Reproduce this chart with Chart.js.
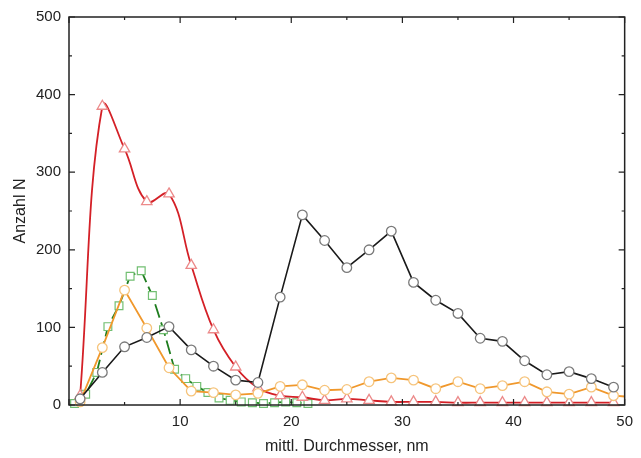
<!DOCTYPE html>
<html lang="de">
<head>
<meta charset="UTF-8">
<title>Anzahl N</title>
<script src="https://cdn.jsdelivr.net/npm/chart.js"></script>
<style>
  body { margin: 0; background: #fff; }
</style>
</head>
<body>
<canvas id="grafico" width="641" height="458"></canvas>
<script>
// Werte
const xUngerade = [1, 3, 5, 7, 9, 11, 13, 15, 17, 19, 21, 23, 25, 27, 29, 31, 33, 35, 37, 39, 41, 43, 45, 47, 49];
const schwarz = [8, 42, 75, 87, 101, 71, 50, 32, 29, 139, 245, 212, 177, 200, 224, 158, 135, 118, 86, 82, 57, 39, 43, 34, 23];
const xOrange = [1, 3, 5, 7, 9, 11, 13, 15, 17, 19, 21, 23, 25, 27, 29, 31, 33, 35, 37, 39, 41, 43, 45, 47, 49, 51];
const orange = [4, 74, 148, 99, 48, 18, 16, 13, 15, 24, 26, 19, 20, 30, 35, 32, 21, 30, 21, 25, 30, 17, 14, 23, 12, 10];
const rot = [12, 385, 330, 262, 272, 180, 97, 49, 22, 12, 10, 6, 8, 6, 4, 4, 4, 3, 3, 3, 3, 3, 3, 3, 3];
const xGruen = [0.5, 1.5, 2.5, 3.5, 4.5, 5.5, 6.5, 7.5, 8.5, 9.5, 10.5, 11.5, 12.5, 13.5, 14.5, 15.5, 16.5, 17.5, 18.5, 19.5, 20.5, 21.5];
const gruen = [2, 14, 42, 101, 128, 166, 173, 141, 97, 46, 34, 24, 16, 9, 6, 4, 3, 2, 3, 4, 3, 2];

const xTicks = [0, 10, 20, 30, 40, 50];
const yTicks = [0, 100, 200, 300, 400, 500];

function punkte(xs, ys) {
    return ys.map((v, i) => ({ x: xs[i], y: v }));
}

// Rahmen mit nach innen zeigenden Ticks
const rahmen = {
    id: 'rahmen',
    afterDatasetsDraw(chart) {
        const { ctx, chartArea: a, scales: { x, y } } = chart;
        ctx.save();
        ctx.strokeStyle = '#222';
        ctx.lineWidth = 1.5;
        ctx.strokeRect(a.left, a.top, a.right - a.left, a.bottom - a.top);
        ctx.lineWidth = 1.2;
        ctx.beginPath();
        for (let v = 0; v <= 50; v += 5) {
            const px = x.getPixelForValue(v);
            const l = v % 10 === 0 ? 6 : 3;
            ctx.moveTo(px, a.bottom); ctx.lineTo(px, a.bottom - l);
            ctx.moveTo(px, a.top); ctx.lineTo(px, a.top + l);
        }
        for (let v = 0; v <= 500; v += 50) {
            const py = y.getPixelForValue(v);
            const l = v % 100 === 0 ? 6 : 3;
            ctx.moveTo(a.left, py); ctx.lineTo(a.left + l, py);
            ctx.moveTo(a.right, py); ctx.lineTo(a.right - l, py);
        }
        ctx.stroke();
        ctx.restore();
    }
};

const clipBereich = { left: 8, top: 8, right: 0, bottom: 8 };

new Chart(document.getElementById('grafico'), {
    type: 'line',
    data: {
        datasets: [
            {
                label: 'schwarz',
                data: punkte(xUngerade, schwarz),
                borderColor: '#1a1a1a',
                borderWidth: 1.6,
                pointStyle: 'circle',
                pointRadius: 4.8,
                pointBorderColor: '#7a7a7a',
                pointBackgroundColor: '#fff',
                pointBorderWidth: 1.3,
                tension: 0,
                clip: clipBereich,
                order: 1
            },
            {
                label: 'orange',
                data: punkte(xOrange, orange),
                borderColor: '#f0982c',
                borderWidth: 1.8,
                pointStyle: 'circle',
                pointRadius: 4.8,
                pointBorderColor: '#f6c47c',
                pointBackgroundColor: '#fff',
                pointBorderWidth: 1.3,
                tension: 0,
                clip: clipBereich,
                order: 2
            },
            {
                label: 'rot',
                data: punkte(xUngerade, rot),
                borderColor: '#d42027',
                borderWidth: 1.8,
                pointStyle: 'triangle',
                pointRadius: 6,
                pointBorderColor: '#ec8a8a',
                pointBackgroundColor: '#fff',
                pointBorderWidth: 1.3,
                tension: 0.4,
                clip: clipBereich,
                order: 3
            },
            {
                label: 'gruen',
                data: punkte(xGruen, gruen),
                borderColor: '#1e7d1e',
                borderWidth: 1.8,
                borderDash: [14, 5],
                pointStyle: 'rect',
                pointRadius: 5.5,
                pointBorderColor: '#72bf72',
                pointBackgroundColor: '#fff',
                pointBorderWidth: 1.2,
                tension: 0,
                clip: clipBereich,
                order: 4
            }
        ]
    },
    options: {
        responsive: false,
        animation: false,
        layout: { padding: { top: 16, right: 9, left: 0, bottom: 0 } },
        plugins: {
            legend: { display: false },
            tooltip: { enabled: false }
        },
        scales: {
            x: {
                type: 'linear',
                min: 0,
                max: 50,
                grid: { display: false, drawTicks: false },
                border: { display: false },
                afterBuildTicks: (s) => { s.ticks = xTicks.map(v => ({ value: v })); },
                afterFit: (s) => { s.height = 53; },
                ticks: {
                    padding: 8,
                    maxRotation: 0,
                    color: '#222',
                    font: { family: 'Liberation Sans', size: 15 },
                    callback: (v) => v === 0 ? '' : v
                },
                title: {
                    display: true,
                    text: 'mittl. Durchmesser, nm',
                    color: '#222',
                    font: { family: 'Liberation Sans', size: 16 },
                    padding: { top: 0, bottom: 2 }
                }
            },
            y: {
                min: 0,
                max: 500,
                grid: { display: false, drawTicks: false },
                border: { display: false },
                afterBuildTicks: (s) => { s.ticks = yTicks.map(v => ({ value: v })); },
                afterFit: (s) => { s.width = 69; },
                ticks: {
                    padding: 8,
                    color: '#222',
                    font: { family: 'Liberation Sans', size: 15 }
                },
                title: {
                    display: true,
                    text: 'Anzahl N',
                    color: '#222',
                    font: { family: 'Liberation Sans', size: 16 },
                    padding: { top: 11, bottom: 0 }
                }
            }
        }
    },
    plugins: [rahmen]
});
</script>
</body>
</html>
